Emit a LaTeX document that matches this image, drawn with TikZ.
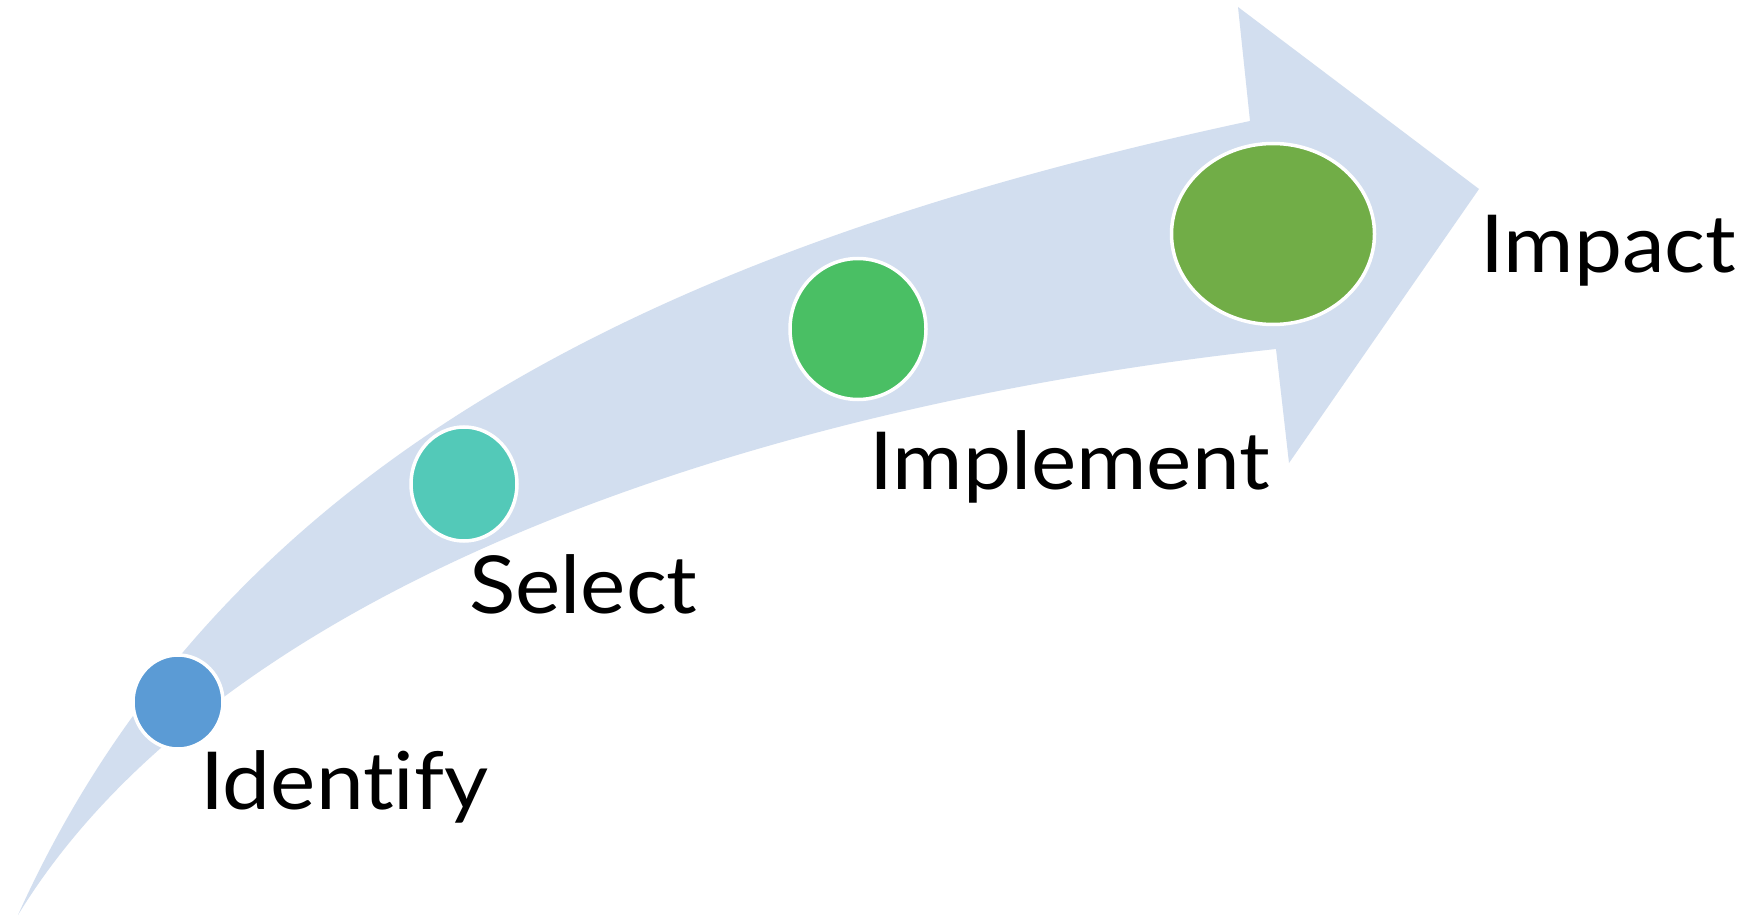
\documentclass[tikz,border=0pt]{standalone}
\usepackage{fontspec}
\setmainfont{Lato}[Ligatures={NoCommon}, FakeStretch=1.07]
\usetikzlibrary{shapes.geometric}
\definecolor{band}{HTML}{D2DEEF}
\definecolor{cA}{HTML}{5B9BD5}
\definecolor{cB}{HTML}{53C9B8}
\definecolor{cC}{HTML}{4ABF64}
\definecolor{cD}{HTML}{71AD47}
\tikzset{
  dot/.style={ellipse, draw=white, line width=3.5pt, inner sep=0pt},
  lbl/.style={anchor=base west, inner sep=0pt, font=\fontsize{80}{80}\selectfont}
}
\begin{document}
\begin{tikzpicture}[x=1pt,y=-1pt]
\useasboundingbox (0,0) rectangle (1762,917);
\fill[white] (0,0) rectangle (1762,917);
% band arrow
\fill[band]
  (18,915) .. controls (223,460) and (662,247) .. (1250,121)
  -- (1238,7) -- (1479,189) -- (1289,463) -- (1276,349)
  .. controls (779,402.5) and (226,575) .. (18,915)
  -- cycle;
% circles
\node[dot, fill=cA, minimum width=90, minimum height=94] (c1) at (178,702) {};
\node[dot, fill=cB, minimum width=106, minimum height=114] (c2) at (464,484) {};
\node[dot, fill=cC, minimum width=136, minimum height=141] (c3) at (858,329) {};
\node[dot, fill=cD, minimum width=203, minimum height=181] (c4) at (1273,234) {};
% labels
\node[lbl] (t1) at (200,809) {Identify};
\node[lbl] (t2) at (469,613) {Select};
\node[lbl] (t3) at (869,489) {Implement};
\node[lbl] (t4) at (1480,273) {Impact};
\end{tikzpicture}
\end{document}
